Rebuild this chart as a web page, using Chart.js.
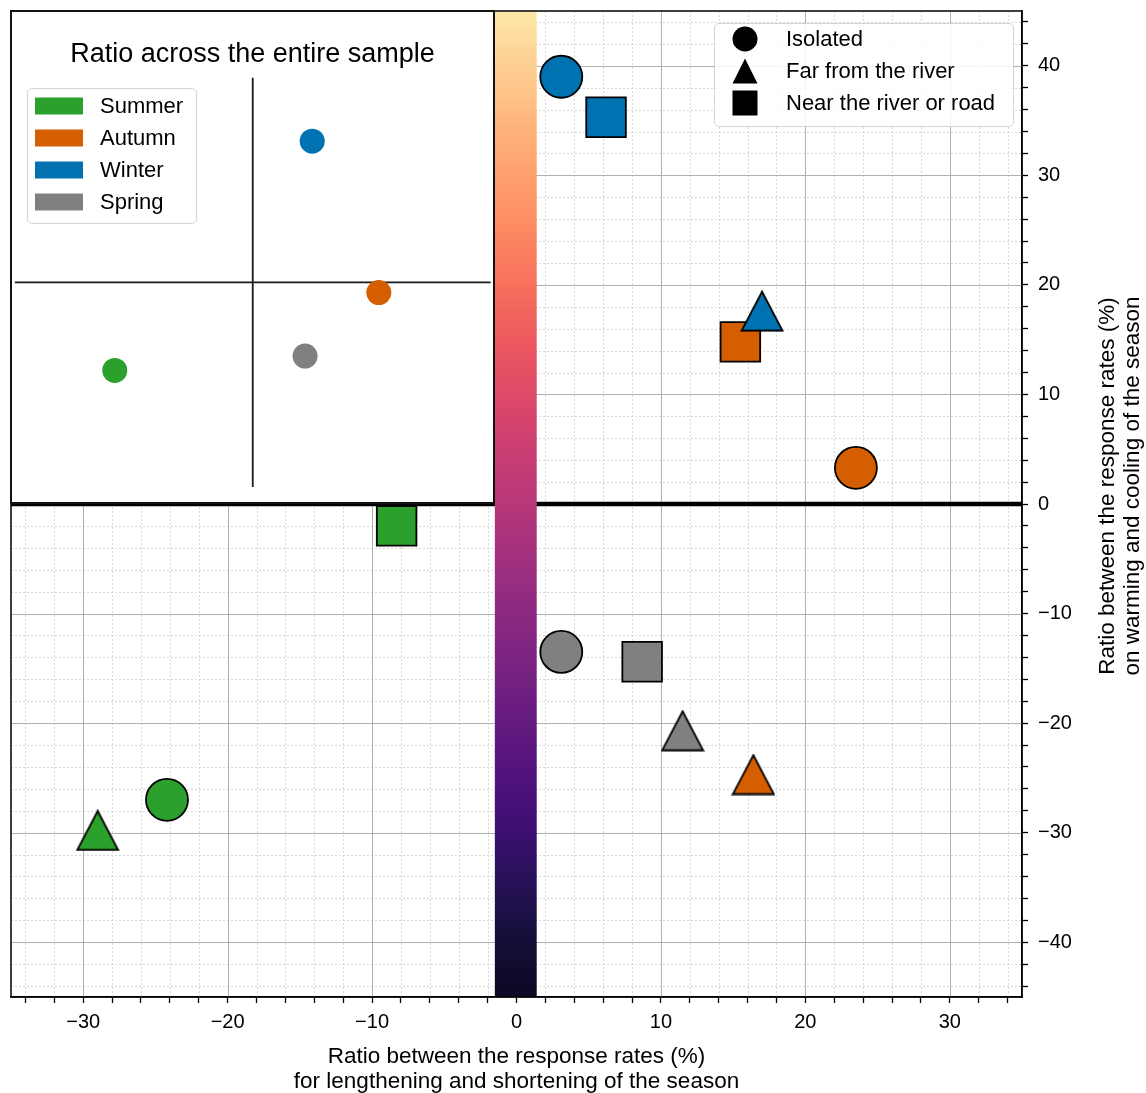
<!DOCTYPE html>
<html lang="en">
<head>
<meta charset="utf-8">
<title>Response rate ratios by season</title>
<script src="https://cdn.jsdelivr.net/npm/chart.js@4.4.1/dist/chart.umd.min.js"></script>
<style>
  html, body { margin: 0; padding: 0; background: #fff; }
  body { font-family: "Liberation Sans", Arial, Helvetica, sans-serif; color: #000; }
  #wrap { position: relative; width: 1146px; height: 1093px; overflow: hidden; }
  #main-box { position: absolute; left: 0; top: 0; width: 1146px; height: 1093px; }
  #inset { position: absolute; left: 10px; top: 10px; width: 485px; height: 494px;
           box-sizing: border-box; border: 2px solid #111; background: #fff; }
  #inset-box { position: absolute; left: 0; top: 0; width: 481px; height: 490px; }
  #inset-title { position: absolute; left: 0; top: 26px; width: 481px; text-align: center;
                 font-size: 27px; line-height: 30px; white-space: nowrap; }
  .legend { position: absolute; box-sizing: border-box; border: 1px solid #d4d4d4; border-radius: 5px;
            background: rgba(255, 255, 255, 0.85); font-size: 22px; }
  .legend .row { position: absolute; left: 0; right: 0; height: 32px; }
  .legend .key { position: absolute; top: 50%; transform: translateY(-50%); }
  .legend .txt { position: absolute; top: 0; line-height: 32px; white-space: nowrap; }
  #season-legend { left: 15px; top: 76px; width: 170px; height: 136px; }
  #site-legend { left: 714px; top: 23px; width: 300px; height: 104px; }
</style>
</head>
<body>
<div id="wrap">
  <div id="main-box"><canvas id="main-chart"></canvas></div>
  <div id="inset">
    <div id="inset-box"><canvas id="inset-chart"></canvas></div>
    <div id="inset-title">Ratio across the entire sample</div>
    <div id="season-legend" class="legend"></div>
  </div>
  <div id="site-legend" class="legend"></div>
</div>
<script>
const FONT = '"Liberation Sans", Arial, Helvetica, sans-serif';

// colour = season, marker = type of site
const seasons = ['Summer', 'Autumn', 'Winter', 'Spring'];
const seasonColors = ['#2ca02c', '#d55e00', '#0072b2', '#808080'];
const siteTypes = ['Isolated', 'Far from the river', 'Near the river or road'];

// main panel, one value per season (same order as seasons)
const isolatedX = [-24.2, 23.5, 3.1, 3.1];
const isolatedY = [-27.0, 3.3, 39.0, -13.5];
const farX = [-29.0, 16.4, 17.0, 11.5];
const farY = [-29.8, -24.7, 17.6, -20.7];
const nearX = [-8.3, 15.5, 6.2, 8.7];
const nearY = [-2.0, 14.8, 35.3, -14.4];

// inset: whole sample, relative units (the cross spans -1..1)
const sampleX = [-0.58, 0.53, 0.25, 0.22];
const sampleY = [-0.43, -0.05, 0.69, -0.36];

const xTickLabels = [-30, -20, -10, 0, 10, 20, 30];
const yTickLabels = [-40, -30, -20, -10, 0, 10, 20, 30, 40];
const xTitle = ['Ratio between the response rates (%)', 'for lengthening and shortening of the season'];
const yTitle = ['Ratio between the response rates (%)', 'on warming and cooling of the season'];

// magma colormap, 0.05 .. 0.95
const magma = ['#0b0924', '#140e36', '#251255', '#3b0f70', '#51127c', '#641a80', '#782281',
  '#8c2981', '#a1307e', '#b73779', '#ca3e72', '#de4968', '#ed5a5f', '#f7705c', '#fc8961',
  '#fe9f6d', '#feb77e', '#fecf92', '#fde7a9'];
const colorbarX = [-1.5, 1.4];

/* ---------- helpers ---------- */
function fmt(v) { return v < 0 ? '\u2212' + Math.abs(v) : String(v); }

function evenTicks(lo, hi) {
  const t = [];
  for (let v = lo; v <= hi; v += 2) t.push({ value: v });
  return t;
}

function toPoints(xs, ys) { return xs.map((x, i) => ({ x: x, y: ys[i] })); }

// matplotlib-like '^' marker (centred on its bounding box)
function triangleMarker(color) {
  const c = document.createElement('canvas');
  c.width = 44; c.height = 42;
  const g = c.getContext('2d');
  g.beginPath();
  g.moveTo(22, 1.5);
  g.lineTo(42.5, 40.5);
  g.lineTo(1.5, 40.5);
  g.closePath();
  g.fillStyle = color;
  g.fill();
  g.lineWidth = 1.8;
  g.strokeStyle = '#000';
  g.stroke();
  return c;
}

/* ---------- plugins ---------- */
const gridPlugin = {
  id: 'mplGrid',
  beforeDatasetsDraw(chart) {
    const { ctx, chartArea: a, scales: { x, y } } = chart;
    ctx.save();
    [false, true].forEach(major => {
      ctx.lineWidth = major ? 1 : 0.8;
      ctx.strokeStyle = major ? '#b0b0b0' : '#cfcfcf';
      ctx.setLineDash(major ? [] : [2, 2]);
      x.ticks.forEach(t => {
        if ((t.value % 10 === 0) !== major) return;
        const p = Math.round(x.getPixelForValue(t.value)) + 0.5;
        ctx.beginPath(); ctx.moveTo(p, a.top); ctx.lineTo(p, a.bottom); ctx.stroke();
      });
      y.ticks.forEach(t => {
        if ((t.value % 10 === 0) !== major) return;
        const p = Math.round(y.getPixelForValue(t.value)) + 0.5;
        ctx.beginPath(); ctx.moveTo(a.left, p); ctx.lineTo(a.right, p); ctx.stroke();
      });
    });
    ctx.restore();
  }
};

const colorbarPlugin = {
  id: 'colorbar',
  afterDatasetDraw(chart, args) {
    if (chart.data.datasets[args.index].id !== 'zero') return;
    const { ctx, chartArea: a, scales: { x } } = chart;
    const x0 = x.getPixelForValue(colorbarX[0]);
    const x1 = x.getPixelForValue(colorbarX[1]);
    const grad = ctx.createLinearGradient(0, a.bottom, 0, a.top);
    magma.forEach((c, i) => grad.addColorStop(i / (magma.length - 1), c));
    ctx.save();
    ctx.fillStyle = grad;
    ctx.fillRect(x0, a.top, x1 - x0, a.bottom - a.top);
    ctx.restore();
  }
};

const framePlugin = {
  id: 'frame',
  afterDraw(chart) {
    const { ctx, chartArea: a } = chart;
    ctx.save();
    ctx.strokeStyle = '#000';
    ctx.lineWidth = 1.5;
    ctx.strokeRect(a.left, a.top, a.right - a.left, a.bottom - a.top);

    ctx.fillStyle = '#000';
    ctx.font = '22.5px ' + FONT;
    ctx.textAlign = 'center';
    ctx.textBaseline = 'middle';
    const cx = (a.left + a.right) / 2;
    ctx.fillText(xTitle[0], cx, a.bottom + 60);
    ctx.fillText(xTitle[1], cx, a.bottom + 85);

    ctx.translate(a.right + 98.5, 486);
    ctx.rotate(-Math.PI / 2);
    ctx.fillText(yTitle[0], 0, -12.5);
    ctx.fillText(yTitle[1], 0, 12.5);
    ctx.restore();
  }
};

/* ---------- main chart ---------- */
const tickGrid = { drawOnChartArea: false, drawTicks: true, tickLength: 6, tickColor: '#000', tickWidth: 1.3 };

new Chart(document.getElementById('main-chart'), {
  type: 'scatter',
  data: {
    datasets: [
      {
        label: siteTypes[0],
        data: toPoints(isolatedX, isolatedY),
        pointStyle: 'circle',
        pointRadius: 21,
        pointBackgroundColor: seasonColors,
        pointBorderColor: '#000',
        pointBorderWidth: 1.8
      },
      {
        label: siteTypes[1],
        data: toPoints(farX, farY),
        pointStyle: seasonColors.map(triangleMarker),
        pointRadius: 20
      },
      {
        label: siteTypes[2],
        data: toPoints(nearX, nearY),
        pointStyle: 'rect',
        pointRadius: 28,
        pointBackgroundColor: seasonColors,
        pointBorderColor: '#000',
        pointBorderWidth: 1.8
      },
      {
        id: 'zero',
        label: 'zero',
        data: [{ x: -35, y: 0 }, { x: 35, y: 0 }],
        showLine: true,
        borderColor: '#000',
        borderWidth: 4.5,
        pointRadius: 0
      }
    ]
  },
  options: {
    responsive: true,
    maintainAspectRatio: false,
    animation: false,
    events: [],
    layout: { autoPadding: false, padding: { left: 11, top: 11, right: 0, bottom: 0 } },
    plugins: { legend: { display: false }, tooltip: { enabled: false } },
    scales: {
      x: {
        type: 'linear',
        position: 'bottom',
        min: -35,
        max: 35,
        afterBuildTicks: s => { s.ticks = evenTicks(-34, 34); },
        afterFit: s => { s.height = 96; s.paddingLeft = 0; s.paddingRight = 0; },
        grid: tickGrid,
        border: { display: true, color: '#000', width: 1.5 },
        ticks: {
          autoSkip: false, maxRotation: 0, padding: 7, color: '#000',
          font: { size: 20, family: FONT },
          callback: v => xTickLabels.includes(v) ? fmt(v) : ''
        }
      },
      y: {
        type: 'linear',
        position: 'right',
        min: -45,
        max: 45,
        afterBuildTicks: s => { s.ticks = evenTicks(-44, 44); },
        afterFit: s => { s.width = 124; s.paddingTop = 0; s.paddingBottom = 0; },
        grid: tickGrid,
        border: { display: true, color: '#000', width: 1.5 },
        ticks: {
          autoSkip: false, padding: 10, color: '#000',
          font: { size: 20, family: FONT },
          callback: v => yTickLabels.includes(v) ? fmt(v) : ''
        }
      }
    }
  },
  plugins: [gridPlugin, colorbarPlugin, framePlugin]
});

/* ---------- inset chart ---------- */
new Chart(document.getElementById('inset-chart'), {
  type: 'scatter',
  data: {
    datasets: [
      {
        label: 'Entire sample',
        data: toPoints(sampleX, sampleY),
        pointRadius: 12.5,
        pointBackgroundColor: seasonColors,
        pointBorderWidth: 0
      },
      {
        label: 'h-axis',
        data: [{ x: -1, y: 0 }, { x: 1, y: 0 }],
        showLine: true, borderColor: '#1a1a1a', borderWidth: 1.8, pointRadius: 0
      },
      {
        label: 'v-axis',
        data: [{ x: 0, y: -1 }, { x: 0, y: 1 }],
        showLine: true, borderColor: '#1a1a1a', borderWidth: 1.8, pointRadius: 0
      }
    ]
  },
  options: {
    responsive: true,
    maintainAspectRatio: false,
    animation: false,
    events: [],
    layout: { autoPadding: false, padding: 0 },
    plugins: { legend: { display: false }, tooltip: { enabled: false } },
    scales: {
      x: { type: 'linear', display: false, min: -1.012, max: 1.01 },
      y: { type: 'linear', display: false, min: -1.073, max: 1.321 }
    }
  }
});

/* ---------- legends ---------- */
const seasonLegend = document.getElementById('season-legend');
seasons.forEach((name, i) => {
  const row = document.createElement('div');
  row.className = 'row';
  row.style.top = (0.5 + 32.3 * i) + 'px';
  row.innerHTML =
    `<div class="key" style="left:7px;width:48px;height:17px;background:${seasonColors[i]}"></div>` +
    `<div class="txt" style="left:72px">${name}</div>`;
  seasonLegend.appendChild(row);
});

const markerSvg = [
  '<svg width="26" height="26"><circle cx="13" cy="13" r="12.5" fill="#000"/></svg>',
  '<svg width="26" height="26"><polygon points="13,0.5 25.5,25.5 0.5,25.5" fill="#000"/></svg>',
  '<svg width="26" height="26"><rect x="0.5" y="0.5" width="25" height="25" fill="#000"/></svg>'
];
const siteLegend = document.getElementById('site-legend');
siteTypes.forEach((name, i) => {
  const row = document.createElement('div');
  row.className = 'row';
  row.style.top = (-1 + 32 * i) + 'px';
  row.innerHTML =
    `<div class="key" style="left:17px;width:26px;height:26px">${markerSvg[i]}</div>` +
    `<div class="txt" style="left:71px">${name}</div>`;
  siteLegend.appendChild(row);
});
</script>
</body>
</html>
